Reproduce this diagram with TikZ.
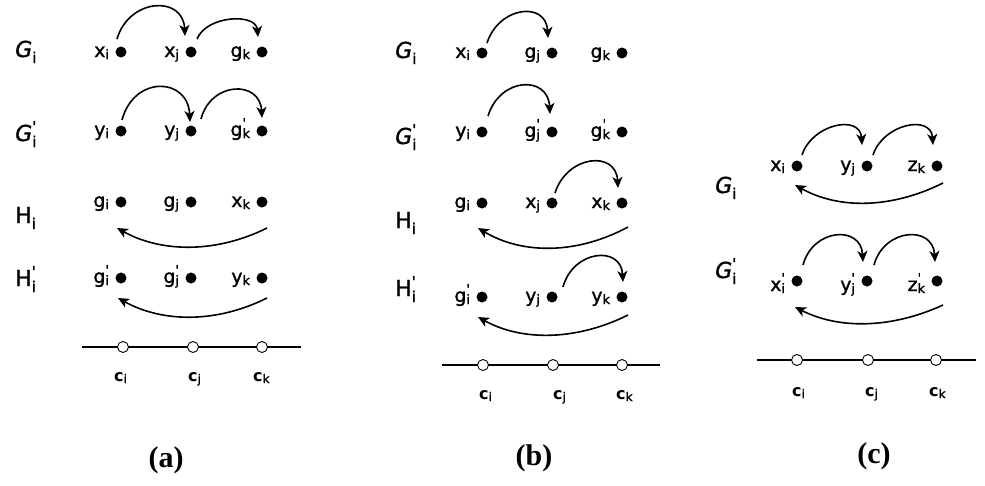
\documentclass[tikz,border=0pt]{standalone}
\usepackage{fontspec}
\setmainfont{DejaVu Sans}
\newfontfamily\lf[FakeBold=1.2]{DejaVu Sans}
\newfontfamily\capfont{Liberation Serif}
\usetikzlibrary{arrows.meta,calc}
\newcommand\dl[3]{{\lf\fontsize{19}{19}\selectfont #1}{\lf\fontsize{13}{13}\selectfont\rlap{\raisebox{-2pt}{#2}}\rlap{\raisebox{8.5pt}{#3}}\phantom{#2}}}
\newcommand\rl[3]{{\lf\fontsize{22}{22}\selectfont #1}{\lf\fontsize{15}{15}\selectfont\rlap{\raisebox{-6pt}{#2}}\rlap{\raisebox{9pt}{#3}}\phantom{#2}}}
\newcommand\cl[1]{{\bfseries\fontsize{16}{16}\selectfont c}{\lf\fontsize{12}{12}\selectfont\raisebox{-2pt}{#1}}}
\newcommand\dotl[5]{\node[dot] (#1) at (#2,#3) {}; \node[dlab] (#1l) at ($(#1.west)+(-6,#4)$) {#5};}
\newcommand\uarc[6]{\draw[arr] ($(#1)+(#3)$) .. controls +(#5) and +(#6) .. ($(#2)+(#4)$);}
\tikzset{
 dot/.style={circle,fill=black,inner sep=0pt,minimum size=11pt},
 odot/.style={circle,draw=black,fill=white,inner sep=0pt,minimum size=11pt,line width=0.9pt},
 dlab/.style={anchor=base east,inner sep=0pt},
 rlab/.style={anchor=base west,inner sep=0pt},
 clab/.style={anchor=base west,inner sep=0pt},
 arr/.style={line width=1.6pt,-{Stealth[length=11pt,width=10pt,inset=3pt]}},
 axisline/.style={line width=1.4pt},
 capt/.style={font=\capfont\bfseries\fontsize{30}{30}\selectfont}
}
\begin{document}
\begin{tikzpicture}[x=1pt,y=-1pt]
\fill[white] (0,0) rectangle (985,485);
\useasboundingbox (0,0) rectangle (985,485);

% ---------- (a) ----------
\node[rlab] (aG) at (15,57) {\rl{\textit{G}}{i}{}};
\node[rlab] (aGp) at (15,141) {\rl{\textit{G}}{i}{'}};
\node[rlab] (aH) at (15,223) {\rl{H}{i}{}};
\node[rlab] (aHp) at (15,286) {\rl{H}{i}{'}};

\dotl{a11}{121}{52}{5}{\dl{x}{i}{}}
\dotl{a12}{191}{52}{5}{\dl{x}{j}{}}
\dotl{a13}{262}{52}{5}{\dl{g}{k}{}}
\dotl{a21}{121}{131}{5}{\dl{y}{i}{}}
\dotl{a22}{191}{131}{5}{\dl{y}{j}{}}
\dotl{a23}{262}{131}{5}{\dl{g}{k}{'}}
\dotl{a31}{121}{202}{5}{\dl{g}{i}{}}
\dotl{a32}{191}{202}{5}{\dl{g}{j}{}}
\dotl{a33}{262}{202}{5}{\dl{x}{k}{}}
\dotl{a41}{121}{278}{5}{\dl{g}{i}{'}}
\dotl{a42}{191}{278}{5}{\dl{g}{j}{'}}
\dotl{a43}{262}{278}{5}{\dl{y}{k}{}}

\uarc{a11}{a12}{-4,-13}{-6,-16}{12,-41}{-2,-41}
\uarc{a12}{a13}{6,-13}{-4,-15}{10,-24}{-2,-24}
\uarc{a21}{a22}{1,-11}{-1,-9}{12,-45}{-2,-45}
\uarc{a22}{a23}{10,-12}{0,-13}{10,-38}{-2,-38}
\draw[arr] ($(a33)+(5,26)$) .. controls +(-50,25) and +(45,25) .. ($(a31)+(-4,26)$);
\draw[arr] ($(a43)+(5,20)$) .. controls +(-50,25) and +(45,25) .. ($(a41)+(-3,20)$);

\coordinate (aL) at (82,347);
\coordinate (aR) at (301,347);
\draw[axisline] (aL) -- (aR);
\node[odot] (ac1) at (123,347) {};
\node[odot] (ac2) at (193,347) {};
\node[odot] (ac3) at (262,347) {};
\node[clab] (ac1l) at (114,381) {\cl{i}};
\node[clab] (ac2l) at (188,381) {\cl{j}};
\node[clab] (ac3l) at (253,381) {\cl{k}};
\node[capt] (acap) at (166,460) {(a)};

% ---------- (b) ----------
\node[rlab] (bG) at (395,58) {\rl{\textit{G}}{i}{}};
\node[rlab] (bGp) at (395,144) {\rl{\textit{G}}{i}{'}};
\node[rlab] (bH) at (395,228) {\rl{H}{i}{}};
\node[rlab] (bHp) at (395,296) {\rl{H}{i}{'}};

\dotl{b11}{482}{53}{5}{\dl{x}{i}{}}
\dotl{b12}{552}{53}{5}{\dl{g}{j}{}}
\dotl{b13}{622}{53}{5}{\dl{g}{k}{}}
\dotl{b21}{482}{132}{5}{\dl{y}{i}{}}
\dotl{b22}{552}{132}{5}{\dl{g}{j}{'}}
\dotl{b23}{622}{132}{5}{\dl{g}{k}{'}}
\dotl{b31}{482}{203}{5}{\dl{g}{i}{}}
\dotl{b32}{552}{203}{5}{\dl{x}{j}{}}
\dotl{b33}{622}{203}{5}{\dl{x}{k}{}}
\dotl{b41}{482}{297}{5}{\dl{g}{i}{'}}
\dotl{b42}{552}{297}{5}{\dl{y}{j}{}}
\dotl{b43}{622}{297}{5}{\dl{y}{k}{}}

\uarc{b11}{b12}{5,-10}{-4,-15}{12,-37}{-2,-37}
\uarc{b21}{b22}{6,-16}{-2,-18}{12,-39}{-2,-39}
\uarc{b32}{b33}{3,-10}{-4,-15}{12,-38}{-2,-38}
\uarc{b42}{b43}{11,-10}{1,-15}{10,-37}{-2,-37}
\draw[arr] ($(b33)+(6,24)$) .. controls +(-50,27) and +(45,27) .. ($(b31)+(-4,25)$);
\draw[arr] ($(b43)+(6,18)$) .. controls +(-50,25) and +(45,25) .. ($(b41)+(-4,20)$);

\coordinate (bL) at (442,365);
\coordinate (bR) at (660,365);
\draw[axisline] (bL) -- (bR);
\node[odot] (bc1) at (483,365) {};
\node[odot] (bc2) at (553,365) {};
\node[odot] (bc3) at (622,365) {};
\node[clab] (bc1l) at (479,399) {\cl{i}};
\node[clab] (bc2l) at (553,399) {\cl{j}};
\node[clab] (bc3l) at (616,399) {\cl{k}};
\node[capt] (bcap) at (534,458) {(b)};

% ---------- (c) ----------
\node[rlab] (cG) at (715,193) {\rl{\textit{G}}{i}{}};
\node[rlab] (cGp) at (715,278) {\rl{\textit{G}}{i}{'}};

\dotl{c11}{797}{166}{5}{\dl{x}{i}{}}
\dotl{c12}{867}{166}{5}{\dl{y}{j}{}}
\dotl{c13}{937}{166}{5}{\dl{z}{k}{}}
\dotl{c21}{797}{281}{10}{\dl{x}{i}{'}}
\dotl{c22}{867}{281}{10}{\dl{y}{j}{'}}
\dotl{c23}{937}{281}{10}{\dl{z}{k}{'}}

\uarc{c11}{c12}{5,-11}{-5,-21}{10,-31}{-2,-31}
\uarc{c12}{c13}{6,-11}{-4,-21}{10,-31}{-2,-31}
\draw[arr] ($(c13)+(6,17)$) .. controls +(-50,25) and +(45,25) .. ($(c11)+(-2,19)$);
\uarc{c21}{c22}{6,-16}{-4,-19}{10,-37}{-2,-37}
\uarc{c22}{c23}{7,-16}{-2,-19}{10,-37}{-2,-37}
\draw[arr] ($(c23)+(6,24)$) .. controls +(-50,23) and +(45,23) .. ($(c21)+(-2,26)$);

\coordinate (cL) at (757,360);
\coordinate (cR) at (976,360);
\draw[axisline] (cL) -- (cR);
\node[odot] (cc1) at (797,360) {};
\node[odot] (cc2) at (868,360) {};
\node[odot] (cc3) at (936,360) {};
\node[clab] (cc1l) at (792,396) {\cl{i}};
\node[clab] (cc2l) at (865,396) {\cl{j}};
\node[clab] (cc3l) at (929,396) {\cl{k}};
\node[capt] (ccap) at (874,456) {(c)};
\end{tikzpicture}
\end{document}
